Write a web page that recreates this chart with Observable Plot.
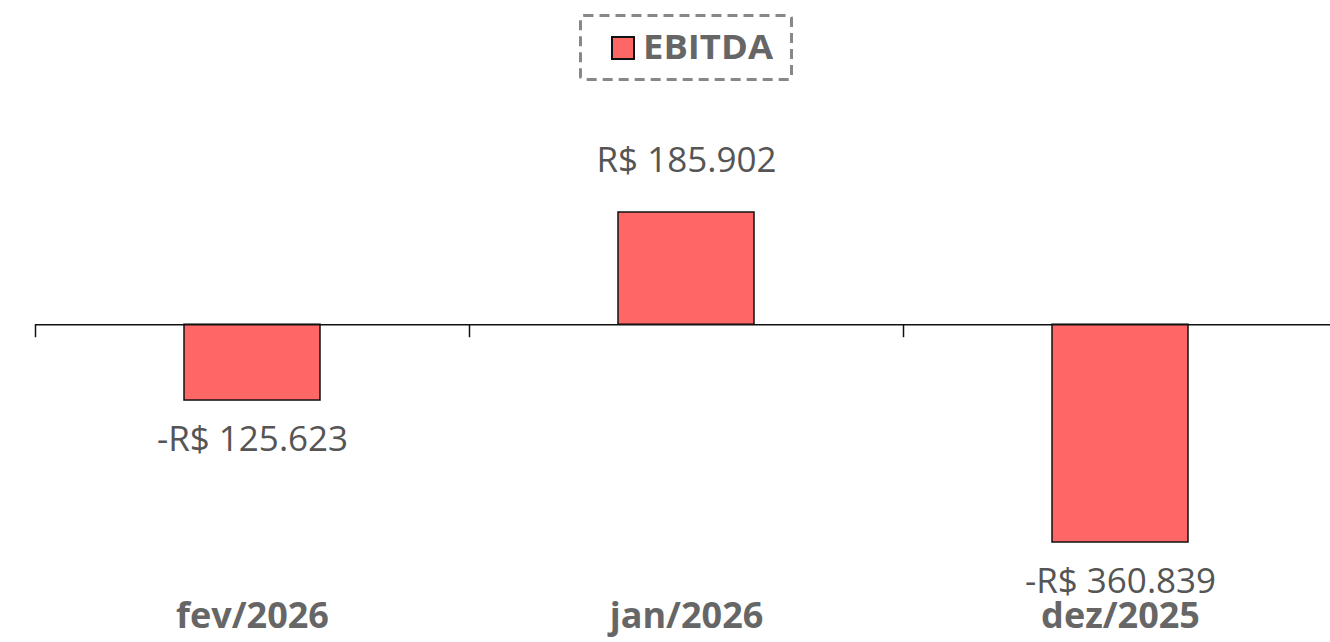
<!DOCTYPE html>
<html>
<head>
<meta charset="utf-8">
<script src="https://cdn.jsdelivr.net/npm/d3@7"></script>
<script src="https://cdn.jsdelivr.net/npm/@observablehq/plot@0.6"></script>
<style>
  html, body { margin: 0; padding: 0; background: #fff; overflow: hidden; }
  body { width: 1330px; height: 642px; font-family: "Open Sans", "Noto Sans", sans-serif; }
  #legend { height: 94px; display: block; }
</style>
</head>
<body>
<svg id="legend" width="1330" height="94">
  <rect x="580.5" y="15.5" width="211" height="64" rx="3" fill="none" stroke="#888" stroke-width="3" stroke-dasharray="10 6"></rect>
  <rect x="612" y="37" width="22" height="22" fill="#FF6666" stroke="#111" stroke-width="2"></rect>
  <text x="643" y="59" font-family="'Open Sans', 'Noto Sans', sans-serif" font-weight="700" font-size="34" fill="#666" textLength="130" lengthAdjust="spacingAndGlyphs">EBITDA</text>
</svg>
<div id="chart"></div>
<script>
const months = ["fev/2026", "jan/2026", "dez/2025"];
const ebitda = [-125623, 185902, -360839];
const labels = ["-R$ 125.623", "R$ 185.902", "-R$ 360.839"];

const data = months.map((m, i) => ({month: m, value: ebitda[i], label: labels[i]}));

const chart = Plot.plot({
  width: 1330,
  height: 548,
  marginTop: 118,
  marginBottom: 100,
  marginLeft: 35,
  marginRight: 0,
  style: {fontFamily: "'Open Sans', 'Noto Sans', sans-serif", background: "#fff"},
  x: {domain: months, range: [35, 1337], paddingInner: 0.6866, paddingOuter: 0.3433, label: null},
  y: {domain: [d3.min(ebitda), d3.max(ebitda)], axis: null},
  marks: [
    Plot.barY(data, {x: "month", y: "value", fill: "#FF6666", stroke: "#111", strokeWidth: 1.5}),
    Plot.ruleY([0], {stroke: "#111", strokeWidth: 1.5}),
    Plot.ruleX(data, {x: "month", y1: 0, y2: 0, insetBottom: -13, dx: -217, stroke: "#111", strokeWidth: 1.5}),
    Plot.text(data.filter(d => d.value >= 0), {x: "month", y: "value", text: "label", dy: -52, fontSize: 35, fill: "#555", lineAnchor: "middle"}),
    Plot.text(data.filter(d => d.value < 0), {x: "month", y: "value", text: "label", dy: 39, fontSize: 35, fill: "#555", lineAnchor: "middle"}),
    Plot.axisX({anchor: "bottom", tickSize: 0, tickPadding: 59.5, fontSize: 36, fontWeight: 700, fill: "#666", label: null})
  ]
});
document.getElementById("chart").appendChild(chart);
</script>
</body>
</html>
